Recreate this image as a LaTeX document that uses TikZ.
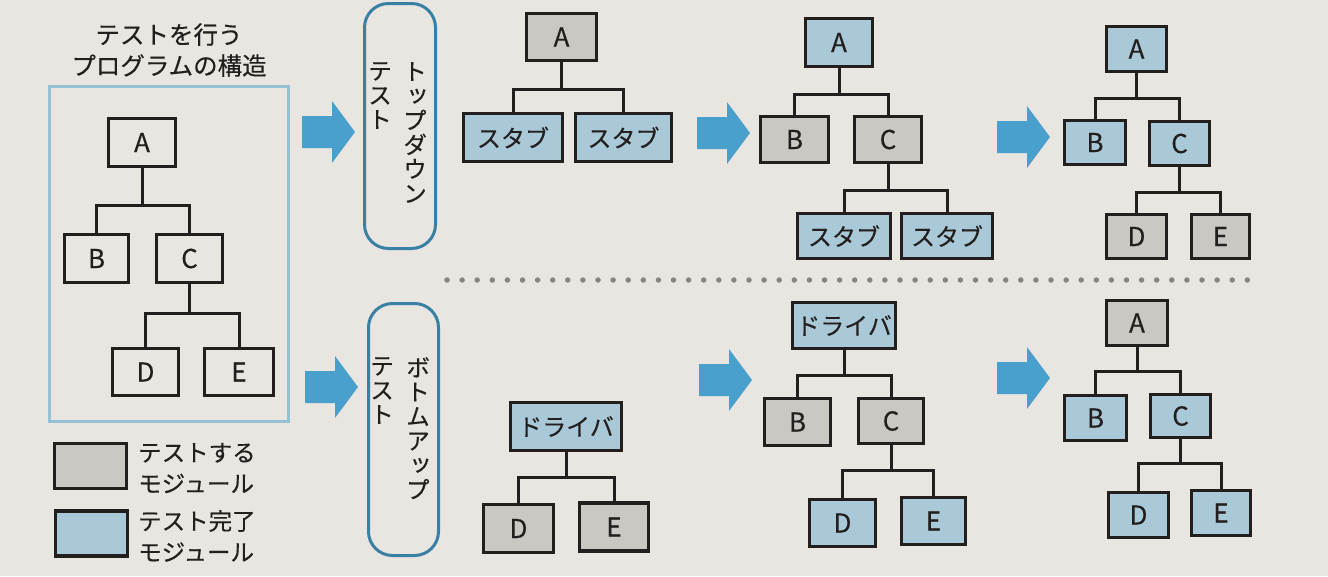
\documentclass[tikz,border=0pt]{standalone}
\usepackage{fontspec}
\setmainfont{Noto Sans CJK JP}
\newfontfamily\jp[FakeBold=0.3]{Noto Sans CJK JP}
\newfontfamily\vjp[RawFeature=+vert,FakeBold=0.3]{Noto Sans CJK JP}
\definecolor{bgc}{RGB}{233,229,225}
\definecolor{ink}{RGB}{35,31,30}
\definecolor{gfill}{RGB}{203,200,196}
\definecolor{bfill}{RGB}{170,201,216}
\definecolor{arrowc}{RGB}{74,160,205}
\definecolor{framec}{RGB}{150,192,212}
\definecolor{rboxc}{RGB}{58,128,165}
\definecolor{dotc}{RGB}{135,133,131}
\tikzset{
  sz/.style 2 args={minimum width=#1pt, minimum height=#2pt},
  mod/.style={draw=ink, line width=3.2pt, inner sep=0pt, text=ink,
    font=\jp\fontsize{26}{26}\selectfont},
  kana/.style={font=\jp\fontsize{24}{24}\selectfont},
  gmod/.style={mod, fill=gfill},
  bmod/.style={mod, fill=bfill},
  wmod/.style={mod},
  conn/.style={draw=ink, line width=3pt},
  vtxt/.style={inner sep=0pt, align=center, text=ink,
    font=\vjp\fontsize{24}{24.4}\selectfont, anchor=north},
  rbox/.style={draw=rboxc, line width=3pt, rounded corners=24pt, inner sep=0pt},
  barrow/.pic={\fill[arrowc] (0,-16) -- (30,-16) -- (30,-31) -- (53,0) -- (30,31) -- (30,16) -- (0,16) -- cycle;}
}
\begin{document}
\begin{tikzpicture}[x=1pt,y=-1pt]
\useasboundingbox (0,0) rectangle (1328,576);
\fill[bgc] (0,0) rectangle (1328,576);

% ---------- left panel ----------
\node[align=center, text=ink, font=\jp\fontsize{24.5}{31}\selectfont] (title) at (169,50) {テストを行う\\プログラムの構造};
\node[draw=framec, line width=3.5pt, sz={239}{335}] (frame) at (169,254) {};

\node[wmod, sz={67}{48}] (la) at (142,142.5) {A};
\node[wmod, sz={64}{48}] (lb) at (96.5,258.5) {B};
\node[wmod, sz={66}{48}] (lc) at (189.5,258.5) {C};
\node[wmod, sz={66}{47}] (ld) at (145.5,372) {D};
\node[wmod, sz={69}{47}] (le) at (239,372) {E};
\coordinate (ly1) at (0,205);
\coordinate (ly2) at (0,313);
\draw[conn] (la.south) -- (la.south |- ly1);
\draw[conn] (lb.north) -- (lb.north |- ly1) -- (lc.north |- ly1) -- (lc.north);
\draw[conn] (lc.south) -- (lc.south |- ly2);
\draw[conn] (ld.north) -- (ld.north |- ly2) -- (le.north |- ly2) -- (le.north);

% legend
\node[gmod, sz={72}{45}] (lg1) at (90.5,466) {};
\node[bmod, sz={72}{45}] (lg2) at (91.5,533.5) {};
\node[anchor=west, align=left, inner sep=0pt, text=ink, font=\jp\fontsize{23.5}{31}\selectfont] (lt1) at (138,468) {テストする\\モジュール};
\node[anchor=west, align=left, inner sep=0pt, text=ink, font=\jp\fontsize{23.5}{31}\selectfont] (lt2) at (138,536) {テスト完了\\モジュール};

% ---------- big arrows ----------
\pic at (302,132) {barrow};
\pic at (305,387) {barrow};
\pic at (697,133) {barrow};
\pic at (699,380) {barrow};
\pic at (997,137) {barrow};
\pic at (997,378) {barrow};

% ---------- method boxes ----------
\node[rbox, sz={71}{245}] (tdbox) at (400,126) {};
\node[vtxt] (td1) at (415,62) {ト\\ッ\\プ\\ダ\\ウ\\ン};
\node[vtxt] (td2) at (380,62) {テ\\ス\\ト};
\node[rbox, sz={70}{252}] (bubox) at (403.5,429.5) {};
\node[vtxt] (bu1) at (418,357) {ボ\\ト\\ム\\ア\\ッ\\プ};
\node[vtxt] (bu2) at (382,357) {テ\\ス\\ト};

% ---------- dotted separator ----------
\coordinate (dl) at (447,280);
\coordinate (dr) at (1262,280);
\draw[dotc, line width=5.5pt, line cap=round, dash pattern=on 0pt off 15.1pt] (dl) -- (dr);

% ---------- top-down stage 1 ----------
\node[gmod, sz={70}{47}] (t1a) at (561.5,37) {A};
\node[bmod, kana, sz={99}{48}] (t1s1) at (513,137.5) {スタブ};
\node[bmod, kana, sz={96}{48}] (t1s2) at (623.5,137.5) {スタブ};
\coordinate (t1y) at (0,89);
\draw[conn] (t1a.south) -- (t1a.south |- t1y);
\draw[conn] (t1s1.north) -- (t1s1.north |- t1y) -- (t1s2.north |- t1y) -- (t1s2.north);

% ---------- top-down stage 2 ----------
\node[bmod, sz={67}{48}] (t2a) at (839,42.5) {A};
\node[gmod, sz={68}{46}] (t2b) at (794.5,139.5) {B};
\node[gmod, sz={67}{46}] (t2c) at (888,139.5) {C};
\node[bmod, kana, sz={93}{45}] (t2s1) at (844,236) {スタブ};
\node[bmod, kana, sz={91}{45}] (t2s2) at (947,236) {スタブ};
\coordinate (t2y1) at (0,94);
\coordinate (t2y2) at (0,190);
\draw[conn] (t2a.south) -- (t2a.south |- t2y1);
\draw[conn] (t2b.north) -- (t2b.north |- t2y1) -- (t2c.north |- t2y1) -- (t2c.north);
\draw[conn] (t2c.south) -- (t2c.south |- t2y2);
\draw[conn] (t2s1.north) -- (t2s1.north |- t2y2) -- (t2s2.north |- t2y2) -- (t2s2.north);

% ---------- top-down stage 3 ----------
\node[bmod, sz={60}{45}] (t3a) at (1136.5,49) {A};
\node[bmod, sz={61}{44}] (t3b) at (1095,142.5) {B};
\node[bmod, sz={60}{44}] (t3c) at (1179.5,143.5) {C};
\node[gmod, sz={60}{44}] (t3d) at (1136.5,236.5) {D};
\node[gmod, sz={58}{44}] (t3e) at (1220.5,236.5) {E};
\coordinate (t3y1) at (0,98);
\coordinate (t3y2) at (0,192);
\draw[conn] (t3a.south) -- (t3a.south |- t3y1);
\draw[conn] (t3b.north) -- (t3b.north |- t3y1) -- (t3c.north |- t3y1) -- (t3c.north);
\draw[conn] (t3c.south) -- (t3c.south |- t3y2);
\draw[conn] (t3d.north) -- (t3d.north |- t3y2) -- (t3e.north |- t3y2) -- (t3e.north);

% ---------- bottom-up stage 1 ----------
\node[bmod, kana, sz={111}{48}] (b1r) at (566,426.5) {ドライバ};
\node[gmod, sz={70}{48}] (b1d) at (518.5,528.5) {D};
\node[gmod, sz={69}{48}] (b1e) at (614,527) {E};
\coordinate (b1y) at (0,477);
\draw[conn] (b1r.south) -- (b1r.south |- b1y);
\draw[conn] (b1d.north) -- (b1d.north |- b1y) -- (b1e.north |- b1y) -- (b1e.north);

% ---------- bottom-up stage 2 ----------
\node[bmod, kana, sz={103}{46}] (b2r) at (844,325.5) {ドライバ};
\node[gmod, sz={66}{47}] (b2b) at (797.5,422) {B};
\node[gmod, sz={65}{45}] (b2c) at (891,421) {C};
\node[bmod, sz={66}{47}] (b2d) at (842.5,523) {D};
\node[bmod, sz={64}{47}] (b2e) at (933.5,521) {E};
\coordinate (b2y1) at (0,375);
\coordinate (b2y2) at (0,470);
\draw[conn] (b2r.south) -- (b2r.south |- b2y1);
\draw[conn] (b2b.north) -- (b2b.north |- b2y1) -- (b2c.north |- b2y1) -- (b2c.north);
\draw[conn] (b2c.south) -- (b2c.south |- b2y2);
\draw[conn] (b2d.north) -- (b2d.north |- b2y2) -- (b2e.north |- b2y2) -- (b2e.north);

% ---------- bottom-up stage 3 ----------
\node[gmod, sz={61}{45}] (b3a) at (1137,323) {A};
\node[bmod, sz={62}{45}] (b3b) at (1095.5,418) {B};
\node[bmod, sz={60}{43}] (b3c) at (1180.5,416) {C};
\node[bmod, sz={60}{45}] (b3d) at (1138.5,515) {D};
\node[bmod, sz={59}{45}] (b3e) at (1221,513) {E};
\coordinate (b3y1) at (0,371);
\coordinate (b3y2) at (0,463);
\draw[conn] (b3a.south) -- (b3a.south |- b3y1);
\draw[conn] (b3b.north) -- (b3b.north |- b3y1) -- (b3c.north |- b3y1) -- (b3c.north);
\draw[conn] (b3c.south) -- (b3c.south |- b3y2);
\draw[conn] (b3d.north) -- (b3d.north |- b3y2) -- (b3e.north |- b3y2) -- (b3e.north);
\end{tikzpicture}
\end{document}
